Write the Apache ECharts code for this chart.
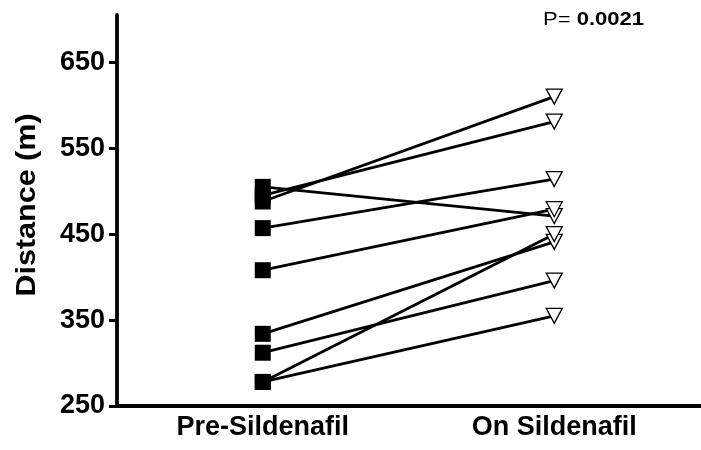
<!DOCTYPE html>
<html>
<head>
<meta charset="utf-8">
<script src="https://cdn.jsdelivr.net/npm/echarts@6/dist/echarts.min.js"></script>
<style>html,body{margin:0;padding:0;background:#fff}#c{width:701px;height:450px}</style>
</head>
<body>
<div id="c"></div>
<script>
var categories = ['Pre-Sildenafil', 'On Sildenafil'];
var preValues  = [488, 495, 505, 457, 408, 334, 312, 278, 278];
var postValues = [610, 581, 471, 514, 479, 441, 396, 450, 355];
var yTicks = [250, 350, 450, 550, 650];
var yMin = 250, yMax = 705;
var pLabel = 'P= ', pValue = '0.0021';
var yName = 'Distance (m)';

var font = '"Liberation Sans", Arial, sans-serif';
var series = [];
for (var i = 0; i < preValues.length; i++) {
  series.push({
    type: 'line', data: [preValues[i], postValues[i]],
    symbol: 'none', lineStyle: {color: '#000', width: 2.8}, z: 2, silent: true, animation: false
  });
}
series.push({
  type: 'scatter', data: preValues.map(function(v){return [0, v];}), symbol: 'rect', symbolSize: 16,
  itemStyle: {color: '#000', opacity: 1}, z: 4, animation: false
});
series.push({
  type: 'scatter', data: postValues.map(function(v){return [1, v];}), symbol: 'triangle', symbolRotate: 180,
  symbolSize: [16, 15], itemStyle: {color: '#fff', borderColor: '#000', borderWidth: 1.3, opacity: 1}, z: 4, animation: false
});

var chart = echarts.init(document.getElementById('c'), null, {renderer: 'canvas'});
chart.setOption({
  animation: false,
  grid: {left: 117, right: 1, top: 15, bottom: 44, containLabel: false},
  xAxis: {
    type: 'category', data: categories, boundaryGap: true,
    axisLine: {lineStyle: {color: '#000', width: 3.8}},
    axisTick: {alignWithLabel: true, length: 6, lineStyle: {color: '#000', width: 3}},
    axisLabel: {color: '#000', fontFamily: font, fontWeight: 'bold', fontSize: 27, margin: 8}
  },
  yAxis: {
    type: 'value', min: yMin, max: yMax,
    axisLine: {show: true, lineStyle: {color: '#000', width: 3.8}},
    axisTick: {show: true, length: 8, customValues: yTicks, lineStyle: {color: '#000', width: 3}},
    axisLabel: {color: '#000', fontFamily: font, fontWeight: 'bold', fontSize: 27, margin: 12, customValues: yTicks},
    splitLine: {show: false}
  },
  graphic: [{
    type: 'text', x: 28, y: 205, rotation: Math.PI / 2, scaleX: 1.13,
    style: {
      text: yName, fontFamily: font, fontWeight: 'bold', fontSize: 27, fill: '#000',
      align: 'center', verticalAlign: 'middle'
    }
  }, {
    type: 'text', x: 543, y: 20, scaleX: 1.16,
    style: {
      text: '{a|' + pLabel + '}{b|' + pValue + '}', verticalAlign: 'middle',
      rich: {
        a: {fontFamily: font, fontSize: 19, fill: '#000'},
        b: {fontFamily: font, fontSize: 19, fontWeight: 'bold', fill: '#000'}
      }
    }
  }],
  series: series
});
</script>
</body>
</html>
